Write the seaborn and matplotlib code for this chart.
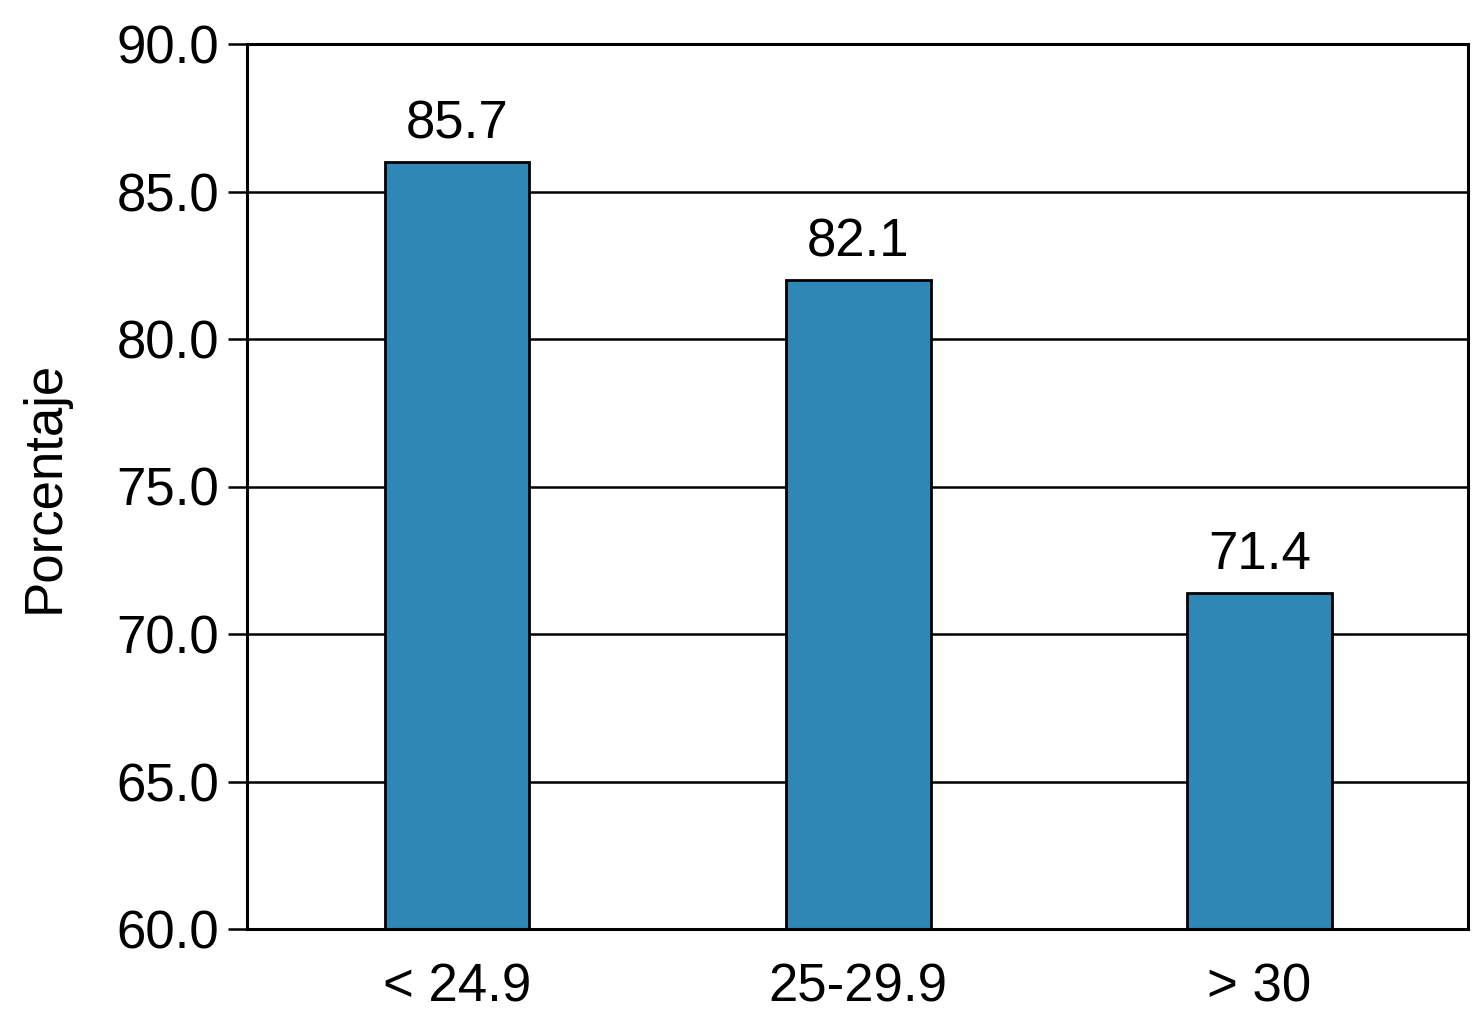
import matplotlib
matplotlib.use('Agg')
import matplotlib.pyplot as plt
import seaborn as sns
import pandas as pd

# data
categorias = ['< 24.9', '25-29.9', '> 30']
alturas = [86.0, 82.0, 71.4]          # bar tops as drawn
etiquetas = ['85.7', '82.1', '71.4']  # printed values
y_ticks = [60.0, 65.0, 70.0, 75.0, 80.0, 85.0, 90.0]

df = pd.DataFrame({'imc': categorias, 'pct': alturas})

sns.set_style('white')
plt.rcParams['font.family'] = ['Liberation Sans', 'DejaVu Sans']
plt.rcParams['text.color'] = 'black'
plt.rcParams['axes.labelcolor'] = 'black'
plt.rcParams['xtick.color'] = 'black'
plt.rcParams['ytick.color'] = 'black'

fig = plt.figure(figsize=(14.72, 10.24), dpi=100)
ax = fig.add_axes([247 / 1472, 1 - 929 / 1024, (1468 - 247) / 1472, (929 - 44) / 1024])

# grid lines behind the bars
for t in y_ticks:
    ax.axhline(t, color='black', lw=1.8, zorder=0)

sns.barplot(data=df, x='imc', y='pct', color='#2E87B5', width=0.36,
            edgecolor='black', linewidth=2, saturation=1, ax=ax, zorder=2)

for i, (h, lab) in enumerate(zip(alturas, etiquetas)):
    ax.annotate(lab, (i, h), xytext=(0, 9), textcoords='offset points',
                ha='center', va='bottom', fontsize=38, color='black')

ax.set_ylim(60, 90)
ax.set_xlim(-0.524, 2.52)
ax.set_yticks(y_ticks)
ax.set_yticklabels([f'{t:.1f}' for t in y_ticks])
ax.tick_params(axis='y', length=14, width=1.8, colors='black', labelsize=38, pad=6, left=True)
ax.tick_params(axis='x', length=0, labelsize=38, pad=24, colors='black')
ax.set_xlabel('')
ax.set_ylabel('Porcentaje', fontsize=38, labelpad=34, color='black')

for s in ax.spines.values():
    s.set_color('black')
    s.set_linewidth(2.2)
    s.set_visible(True)

fig.savefig('out.png', dpi=100)
